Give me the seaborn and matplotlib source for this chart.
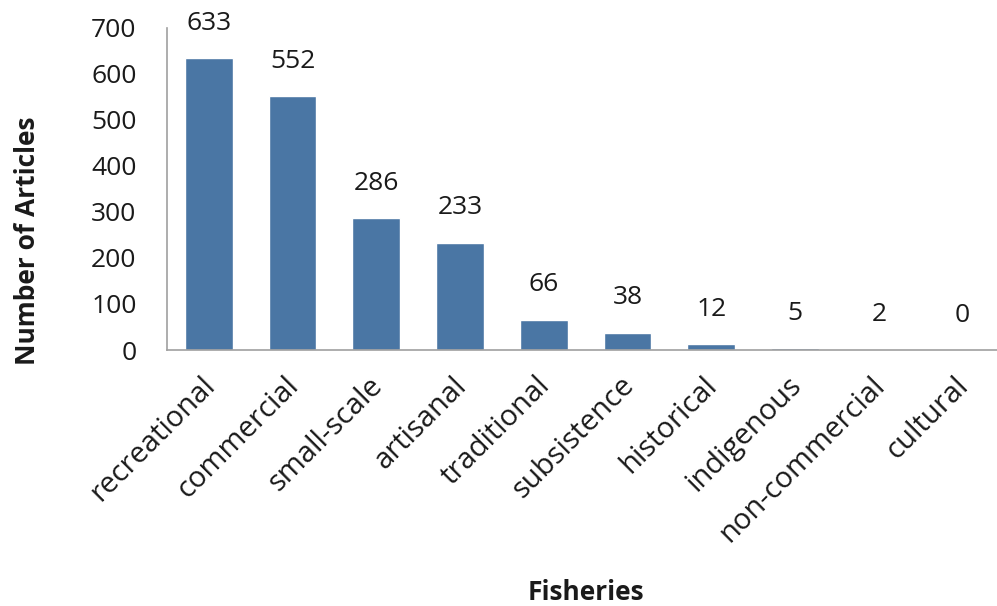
import pandas as pd
import matplotlib.pyplot as plt
import matplotlib.transforms as mtransforms
import seaborn as sns

fisheries = ['recreational', 'commercial', 'small-scale', 'artisanal', 'traditional',
             'subsistence', 'historical', 'indigenous', 'non-commercial', 'cultural']
articles = [633, 552, 286, 233, 66, 38, 12, 5, 2, 0]

df = pd.DataFrame({'fishery': fisheries, 'articles': articles})

sns.set_style('white')
plt.rcParams['font.family'] = ['Open Sans', 'DejaVu Sans']

fig = plt.figure(figsize=(9.97, 6.06), dpi=100)
ax = fig.add_axes([0.1675, 0.4224, 0.84, 0.532])

sns.barplot(data=df, x='fishery', y='articles', color='#4A76A4', saturation=1,
            width=0.57, ax=ax)

# value labels above bars
for i, v in enumerate(articles):
    ax.annotate(str(v), (i, v), xytext=(0, 16), textcoords='offset points',
                ha='center', va='bottom', fontsize=19, color='#1a1a1a')

ax.set_ylim(0, 700)
ax.set_xlim(-0.5, 9.5)
ax.set_yticks(range(0, 701, 100))
ax.tick_params(axis='y', labelsize=19, length=0, pad=22, labelcolor='#1a1a1a')
ax.tick_params(axis='x', labelsize=21, length=0, pad=5, labelcolor='#1a1a1a')
plt.setp(ax.get_xticklabels(), rotation=45, ha='right', rotation_mode='anchor')

# nudge rotated labels down/left like the original
shift = mtransforms.ScaledTranslation(-6 / 72, -10 / 72, fig.dpi_scale_trans)
for lab in ax.get_xticklabels():
    lab.set_transform(lab.get_transform() + shift)

for s in ['top', 'right']:
    ax.spines[s].set_visible(False)
for s in ['left', 'bottom']:
    ax.spines[s].set_color('#a0a0a0')
    ax.spines[s].set_linewidth(1.2)

ax.set_xlabel('Fisheries', fontsize=19, fontweight='bold', color='#1a1a1a')
ax.set_ylabel('Number of Articles', fontsize=19, fontweight='bold', color='#1a1a1a')
ax.xaxis.set_label_coords(0.5, -0.71)
ax.yaxis.set_label_coords(-0.15, 0.34)

fig.savefig('out.png', dpi=100)
